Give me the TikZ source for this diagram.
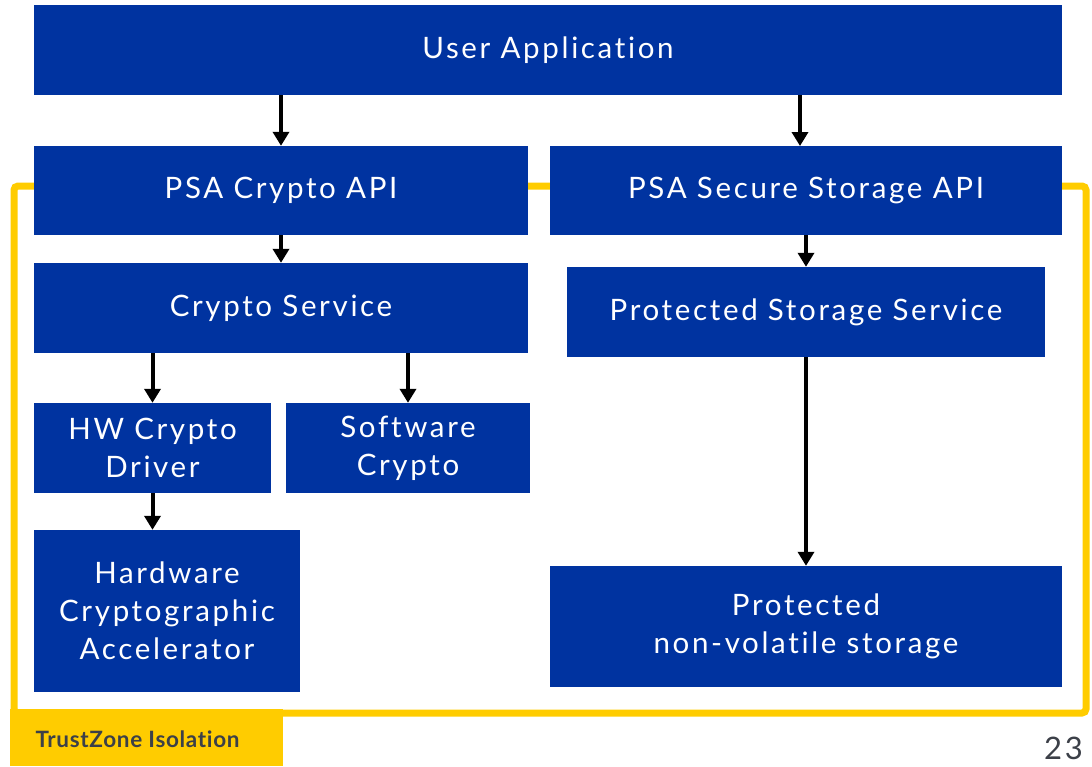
\documentclass[tikz,border=0pt]{standalone}
\usepackage{fontspec}
\setmainfont{Lato}[Ligatures={NoCommon}]
\newfontfamily\spacedfont{Lato}[LetterSpace=9,Ligatures={NoCommon}]
\newfontfamily\tagfont{Lato}[LetterSpace=3,Ligatures={NoCommon}]
\usetikzlibrary{arrows.meta}

\definecolor{armblue}{RGB}{0,51,160}
\definecolor{tzyellow}{RGB}{255,204,0}
\definecolor{tzgray}{RGB}{60,64,72}

\begin{document}
\begin{tikzpicture}[x=1pt,y=-1pt,
		blk/.style={fill=armblue, text=white, inner sep=0pt, align=center,
			font=\spacedfont\fontsize{29.5}{38}\selectfont},
		arr/.style={line width=4pt, -{Triangle[width=16pt,length=14pt]}},
		zone/.style={draw=tzyellow, line width=7pt, rounded corners=4pt}]
		\useasboundingbox (0,0) rectangle (1092,766);
		% trustzone frame
		\draw[zone] (14,186) rectangle (1086,713);
		\fill[tzyellow] (10,709) rectangle (283,766);
		\node[anchor=base west, text=tzgray, font=\tagfont\bfseries\fontsize{22.5}{24}\selectfont] (tzlabel) at (32,747) {TrustZone Isolation};
		\node[anchor=base east, inner sep=1pt, text=tzgray, font=\spacedfont\fontsize{31}{33}\selectfont] (pagenum) at (1084,759) {23};
		% blocks
		\node[blk, minimum width=1028pt, minimum height=90pt] (ua) at (548,50) {User Application};
		\node[blk, minimum width=494pt, minimum height=89pt] (cpa) at (281,190.5) {PSA Crypto API};
		\node[blk, minimum width=512pt, minimum height=89pt] (ssa) at (806,190.5) {PSA Secure Storage API};
		\node[blk, minimum width=494pt, minimum height=90pt] (cs) at (281,308) {Crypto Service};
		\node[blk, minimum width=478pt, minimum height=90pt] (pss) at (806,312) {Protected Storage Service};
		\node[blk, minimum width=237pt, minimum height=90pt] (hwd) at (152.5,448) {HW Crypto\\Driver};
		\node[blk, minimum width=244pt, minimum height=90pt] (swc) at (408,448) {Software\\Crypto};
		\node[blk, minimum width=266pt, minimum height=162pt] (hca) at (167,611) {Hardware\\Cryptographic\\Accelerator};
		\node[blk, minimum width=512pt, minimum height=121pt] (pnv) at (806,626.5) {Protected\\non-volatile storage};
		% arrows
		\draw[arr] (ua.south -| cpa.north) -- (cpa.north);
		\draw[arr] (ua.south -| 800,0) -- (800,146);
		\draw[arr] (cpa) -- (cs);
		\draw[arr] (ssa) -- (pss);
		\draw[arr] (cs.south -| hwd.north) -- (hwd.north);
		\draw[arr] (cs.south -| swc.north) -- (swc.north);
		\draw[arr] (hwd.south) -- (hwd.south |- hca.north);
		\draw[arr] (pss) -- (pnv);
	\end{tikzpicture}
\end{document}
